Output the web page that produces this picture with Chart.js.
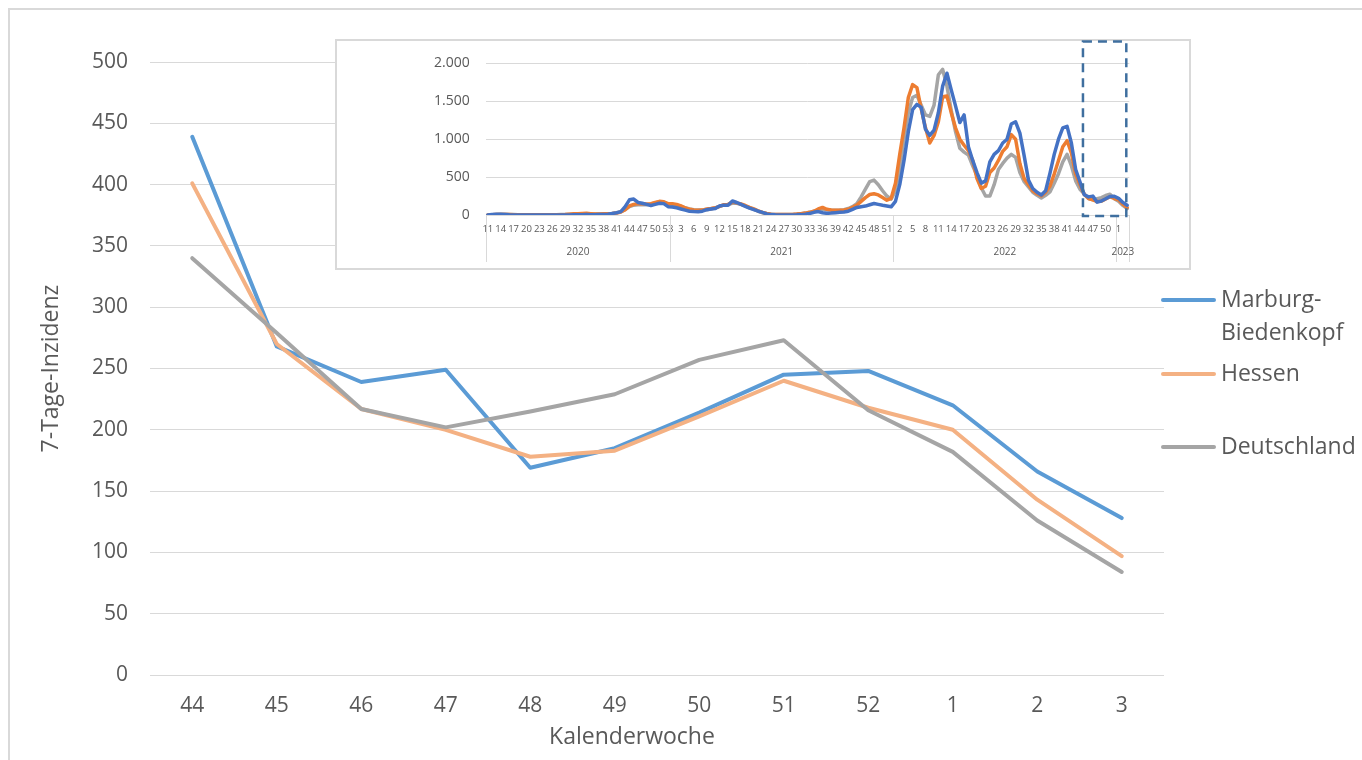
<!DOCTYPE html>
<html lang="de">
<head>
<meta charset="utf-8">
<title>7-Tage-Inzidenz</title>
<script src="https://cdn.jsdelivr.net/npm/chart.js@4.4.0/dist/chart.umd.min.js"></script>
<style>
  html, body { margin: 0; padding: 0; background: #ffffff; overflow: hidden; }
  #wrap { position: relative; width: 1362px; height: 760px; }
  #main { position: absolute; left: 0; top: 0; width: 1362px; height: 760px; }
  #inset { position: absolute; left: 335px; top: 39px; width: 856px; height: 231px; background: #ffffff; }
</style>
</head>
<body>
<div id="wrap">
  <canvas id="main" width="1362" height="760"></canvas>
  <canvas id="inset" width="856" height="231"></canvas>
</div>
<script>
// ---------------- DATA ----------------
// Main chart: calendar weeks 44/2022 – 3/2023
const mainWeeks = ['44', '45', '46', '47', '48', '49', '50', '51', '52', '1', '2', '3'];
const seriesNames = ['Marburg-Biedenkopf', 'Hessen', 'Deutschland'];
const mainMarburg     = [439, 268, 239, 249, 169, 185, 214, 245, 248, 220, 166, 128];
const mainHessen      = [401, 270, 217, 200, 178, 183, 211, 240, 218, 200, 143, 97];
const mainDeutschland = [340, 279, 217, 202, 215, 229, 257, 273, 216, 182, 126, 84];
const mainYTitle = '7-Tage-Inzidenz';
const mainXTitle = 'Kalenderwoche';

// Inset chart: weekly values from week 11/2020 to week 3/2023
const insetYears     = ['2020', '2021', '2022', '2023'];
const insetFirstWeek = [11, 1, 1, 1];
const insetLastWeek  = [53, 52, 52, 3];

const insetMarburg2020 = [0, 8, 10, 10, 8, 3, 1, 1, 1, 1,
  1, 1, 1, 1, 1, 1, 1, 1, 1, 1,
  2, 2, 3, 8, 2, 2, 5, 8, 10, 20,
  30, 45, 110, 200, 210, 165, 155, 140, 125, 140,
  155, 150, 110];
const insetMarburg2021 = [105, 95, 80, 65, 50, 45, 42, 50, 70, 78,
  85, 120, 130, 130, 185, 165, 140, 115, 90, 70,
  50, 35, 15, 5, 2, 1, 1, 1, 1, 2,
  5, 10, 20, 35, 45, 30, 22, 25, 30, 35,
  40, 50, 75, 100, 110, 118, 135, 152, 140, 128,
  118, 108];
const insetMarburg2022 = [180, 400, 720, 1100, 1390, 1460, 1420, 1130, 1050, 1120,
  1350, 1700, 1870, 1650, 1440, 1220, 1320, 900, 720, 560,
  420, 450, 700, 800, 850, 950, 1000, 1200, 1230, 1080,
  780, 460, 350, 300, 265, 320, 550, 800, 1000, 1150,
  1170, 950, 600, 439, 268, 239, 249, 169, 185, 214,
  245, 248];
const insetMarburg2023 = [220, 166, 128];

const insetHessen2020 = [0, 3, 5, 8, 8, 6, 4, 3, 2, 2,
  2, 2, 2, 2, 2, 2, 3, 4, 6, 10,
  15, 18, 20, 22, 18, 12, 12, 15, 18, 20,
  25, 40, 70, 120, 140, 150, 150, 145, 150, 165,
  180, 175, 150];
const insetHessen2021 = [150, 140, 120, 95, 75, 65, 62, 65, 80, 85,
  95, 115, 135, 140, 170, 160, 145, 125, 100, 80,
  55, 35, 20, 10, 6, 5, 5, 6, 8, 12,
  18, 25, 35, 50, 80, 100, 75, 65, 62, 62,
  65, 75, 100, 130, 180, 230, 270, 280, 265, 230,
  195, 220];
const insetHessen2022 = [420, 800, 1150, 1550, 1720, 1680, 1400, 1150, 950, 1050,
  1230, 1560, 1570, 1350, 1150, 1000, 920, 850, 720, 480,
  350, 380, 560, 620, 720, 840, 900, 1060, 1000, 680,
  480, 400, 320, 280, 250, 300, 380, 540, 720, 900,
  980, 820, 540, 401, 270, 217, 200, 178, 183, 211,
  240, 218];
const insetHessen2023 = [200, 143, 97];

const insetDeutschland2020 = [0, 3, 6, 10, 10, 8, 6, 4, 3, 2,
  2, 2, 2, 2, 2, 3, 4, 5, 7, 9,
  11, 13, 14, 15, 14, 12, 12, 14, 16, 20,
  28, 45, 70, 110, 130, 135, 135, 135, 145, 160,
  175, 170, 140];
const insetDeutschland2021 = [140, 130, 115, 95, 80, 70, 65, 65, 70, 80,
  95, 115, 130, 140, 155, 155, 140, 120, 95, 75,
  50, 30, 18, 10, 6, 5, 5, 6, 8, 12,
  18, 25, 35, 50, 65, 75, 70, 65, 62, 65,
  70, 85, 110, 150, 240, 340, 440, 460, 400, 320,
  250, 210];
const insetDeutschland2022 = [320, 600, 1000, 1350, 1550, 1580, 1450, 1320, 1300, 1450,
  1850, 1920, 1700, 1380, 1100, 880, 830, 790, 650, 520,
  360, 250, 250, 400, 600, 680, 750, 800, 760, 560,
  440, 370, 300, 260, 225, 260, 305, 420, 545, 700,
  800, 650, 450, 340, 279, 217, 202, 215, 229, 257,
  273, 216];
const insetDeutschland2023 = [182, 126, 84];

// ---------------- BUILD ----------------
const FONT = "'Open Sans', 'Noto Sans', sans-serif";
const TXT = '#595959';
const GRID = '#D9D9D9';

const insetLabels = [];
const insetYearStart = [];
insetYears.forEach((y, k) => {
  insetYearStart.push(insetLabels.length);
  for (let w = insetFirstWeek[k]; w <= insetLastWeek[k]; w++) insetLabels.push(String(w));
});
const insetMarburg = [].concat(insetMarburg2020, insetMarburg2021, insetMarburg2022, insetMarburg2023);
const insetHessen = [].concat(insetHessen2020, insetHessen2021, insetHessen2022, insetHessen2023);
const insetDeutschland = [].concat(insetDeutschland2020, insetDeutschland2021, insetDeutschland2022, insetDeutschland2023);

function lineStyle(ds, width) {
  return Object.assign(ds, {
    borderWidth: width, pointRadius: 0, pointHoverRadius: 0, fill: false,
    tension: 0, borderJoinStyle: 'round', borderCapStyle: 'round'
  });
}

// ---------------- MAIN CHART ----------------
const framePlugin = {
  id: 'frame',
  beforeDraw(chart) {
    const ctx = chart.ctx;
    ctx.save();
    ctx.strokeStyle = GRID;
    ctx.lineWidth = 2;
    ctx.strokeRect(9, 9, chart.width + 40, chart.height + 40);
    ctx.restore();
  },
  afterDraw(chart) {
    const ctx = chart.ctx;
    ctx.save();
    ctx.fillStyle = TXT;
    ctx.font = "23px " + FONT;
    ctx.textAlign = 'center';
    ctx.textBaseline = 'middle';
    ctx.fillText(mainXTitle, 632, 737);
    ctx.restore();
  }
};

const legendPlugin = {
  id: 'sideLegend',
  afterDraw(chart) {
    const ctx = chart.ctx;
    const rowY = [300, 374, 447];
    ctx.save();
    ctx.font = "23px " + FONT;
    ctx.textAlign = 'left';
    ctx.textBaseline = 'middle';
    chart.data.datasets.forEach((ds, i) => {
      const y = rowY[i];
      ctx.strokeStyle = ds.borderColor;
      ctx.lineWidth = 4;
      ctx.lineCap = 'round';
      ctx.beginPath();
      ctx.moveTo(1163, y);
      ctx.lineTo(1214, y);
      ctx.stroke();
      ctx.fillStyle = TXT;
      const parts = ds.label.split(/(?<=-)/);
      parts.forEach((p, j) => ctx.fillText(p, 1221, y + j * 33));
    });
    ctx.restore();
  }
};

new Chart(document.getElementById('main'), {
  type: 'line',
  data: {
    labels: mainWeeks,
    datasets: [
      lineStyle({ label: seriesNames[0], data: mainMarburg, borderColor: '#5B9BD5', order: 2 }, 4),
      lineStyle({ label: seriesNames[1], data: mainHessen, borderColor: '#F4B183', order: 1 }, 4),
      lineStyle({ label: seriesNames[2], data: mainDeutschland, borderColor: '#A5A5A5', order: 0 }, 4)
    ]
  },
  options: {
    responsive: false,
    animation: false,
    events: [],
    layout: { padding: { top: 62, right: 198, left: 0, bottom: 0 } },
    plugins: { legend: { display: false }, tooltip: { enabled: false } },
    scales: {
      x: {
        offset: true,
        grid: { display: false, drawTicks: false },
        border: { display: false },
        ticks: { color: TXT, font: { family: FONT, size: 21 }, padding: 18, maxRotation: 0, autoSkip: false },
        afterFit: s => { s.height = 85; }
      },
      y: {
        min: 0, max: 500,
        ticks: { stepSize: 50, color: TXT, font: { family: FONT, size: 21 }, padding: 22 },
        grid: { color: GRID, lineWidth: 1, drawTicks: false },
        border: { display: false },
        title: { display: true, text: mainYTitle, color: TXT, font: { family: FONT, size: 23 }, padding: { top: 38, bottom: 0 } },
        afterFit: s => { s.width = 150; }
      }
    }
  },
  plugins: [framePlugin, legendPlugin]
});

// ---------------- INSET CHART ----------------
function fmtDE(v) {
  if (v >= 1000) return Math.floor(v / 1000) + '.' + String(v % 1000).padStart(3, '0');
  return String(v);
}

const insetDecor = {
  id: 'insetDecor',
  beforeDraw(chart) {
    const ctx = chart.ctx;
    ctx.save();
    ctx.fillStyle = '#ffffff';
    ctx.fillRect(0, 0, chart.width, chart.height);
    ctx.strokeStyle = GRID;
    ctx.lineWidth = 2;
    ctx.strokeRect(1, 1, chart.width - 2, chart.height - 2);
    ctx.restore();
  },
  afterDraw(chart) {
    const ctx = chart.ctx;
    const xs = chart.scales.x, ys = chart.scales.y;
    const n = chart.data.labels.length;
    const cw = (xs.right - xs.left) / n;
    const bottom = chart.chartArea.bottom;
    ctx.save();
    // year group separators + labels
    ctx.strokeStyle = GRID;
    ctx.lineWidth = 1;
    ctx.fillStyle = TXT;
    ctx.font = "10px " + FONT;
    ctx.textAlign = 'center';
    ctx.textBaseline = 'middle';
    const bounds = insetYearStart.concat([n]);
    bounds.forEach(b => {
      const x = Math.round(xs.getPixelForValue(b) - cw / 2) + 0.5;
      ctx.beginPath();
      ctx.moveTo(x, bottom);
      ctx.lineTo(x, bottom + 47);
      ctx.stroke();
    });
    insetYears.forEach((y, k) => {
      const l = xs.getPixelForValue(bounds[k]) - cw / 2;
      const r = xs.getPixelForValue(bounds[k + 1]) - cw / 2;
      ctx.fillText(y, (l + r) / 2, bottom + 37);
    });
    // dashed zoom box around the weeks of the main chart
    const startIdx = n - mainWeeks.length;
    const bl = xs.getPixelForValue(startIdx) + 3;
    const br = xs.right - 3;
    const bt = 2.5;
    const bb = ys.getPixelForValue(0) + 1;
    ctx.strokeStyle = '#3F6F9F';
    ctx.lineWidth = 2.5;
    ctx.setLineDash([9, 6]);
    ctx.strokeRect(bl, bt, br - bl, bb - bt);
    ctx.restore();
  }
};

new Chart(document.getElementById('inset'), {
  type: 'line',
  data: {
    labels: insetLabels,
    datasets: [
      lineStyle({ label: seriesNames[0], data: insetMarburg, borderColor: '#4472C4' }, 3.5),
      lineStyle({ label: seriesNames[1], data: insetHessen, borderColor: '#ED7D31' }, 3.5),
      lineStyle({ label: seriesNames[2], data: insetDeutschland, borderColor: '#A5A5A5' }, 3.5)
    ]
  },
  options: {
    responsive: false,
    animation: false,
    events: [],
    layout: { padding: { top: 23, right: 61.7, left: 0, bottom: 0 } },
    plugins: { legend: { display: false }, tooltip: { enabled: false } },
    scales: {
      x: {
        offset: true,
        grid: { display: false, drawTicks: false },
        border: { display: false },
        ticks: {
          autoSkip: false, maxRotation: 0, minRotation: 0,
          color: TXT, font: { family: FONT, size: 9.5 }, padding: 9,
          callback: (v, i) => (i % 3 === 0 ? insetLabels[i] : '')
        },
        afterFit: s => { s.height = 55; }
      },
      y: {
        min: 0, max: 2000,
        ticks: { stepSize: 500, color: TXT, font: { family: FONT, size: 14 }, padding: 16, callback: v => fmtDE(v) },
        grid: { color: GRID, lineWidth: 1, drawTicks: false },
        border: { display: false },
        afterFit: s => { s.width = 150.7; }
      }
    }
  },
  plugins: [insetDecor]
});
</script>
</body>
</html>
